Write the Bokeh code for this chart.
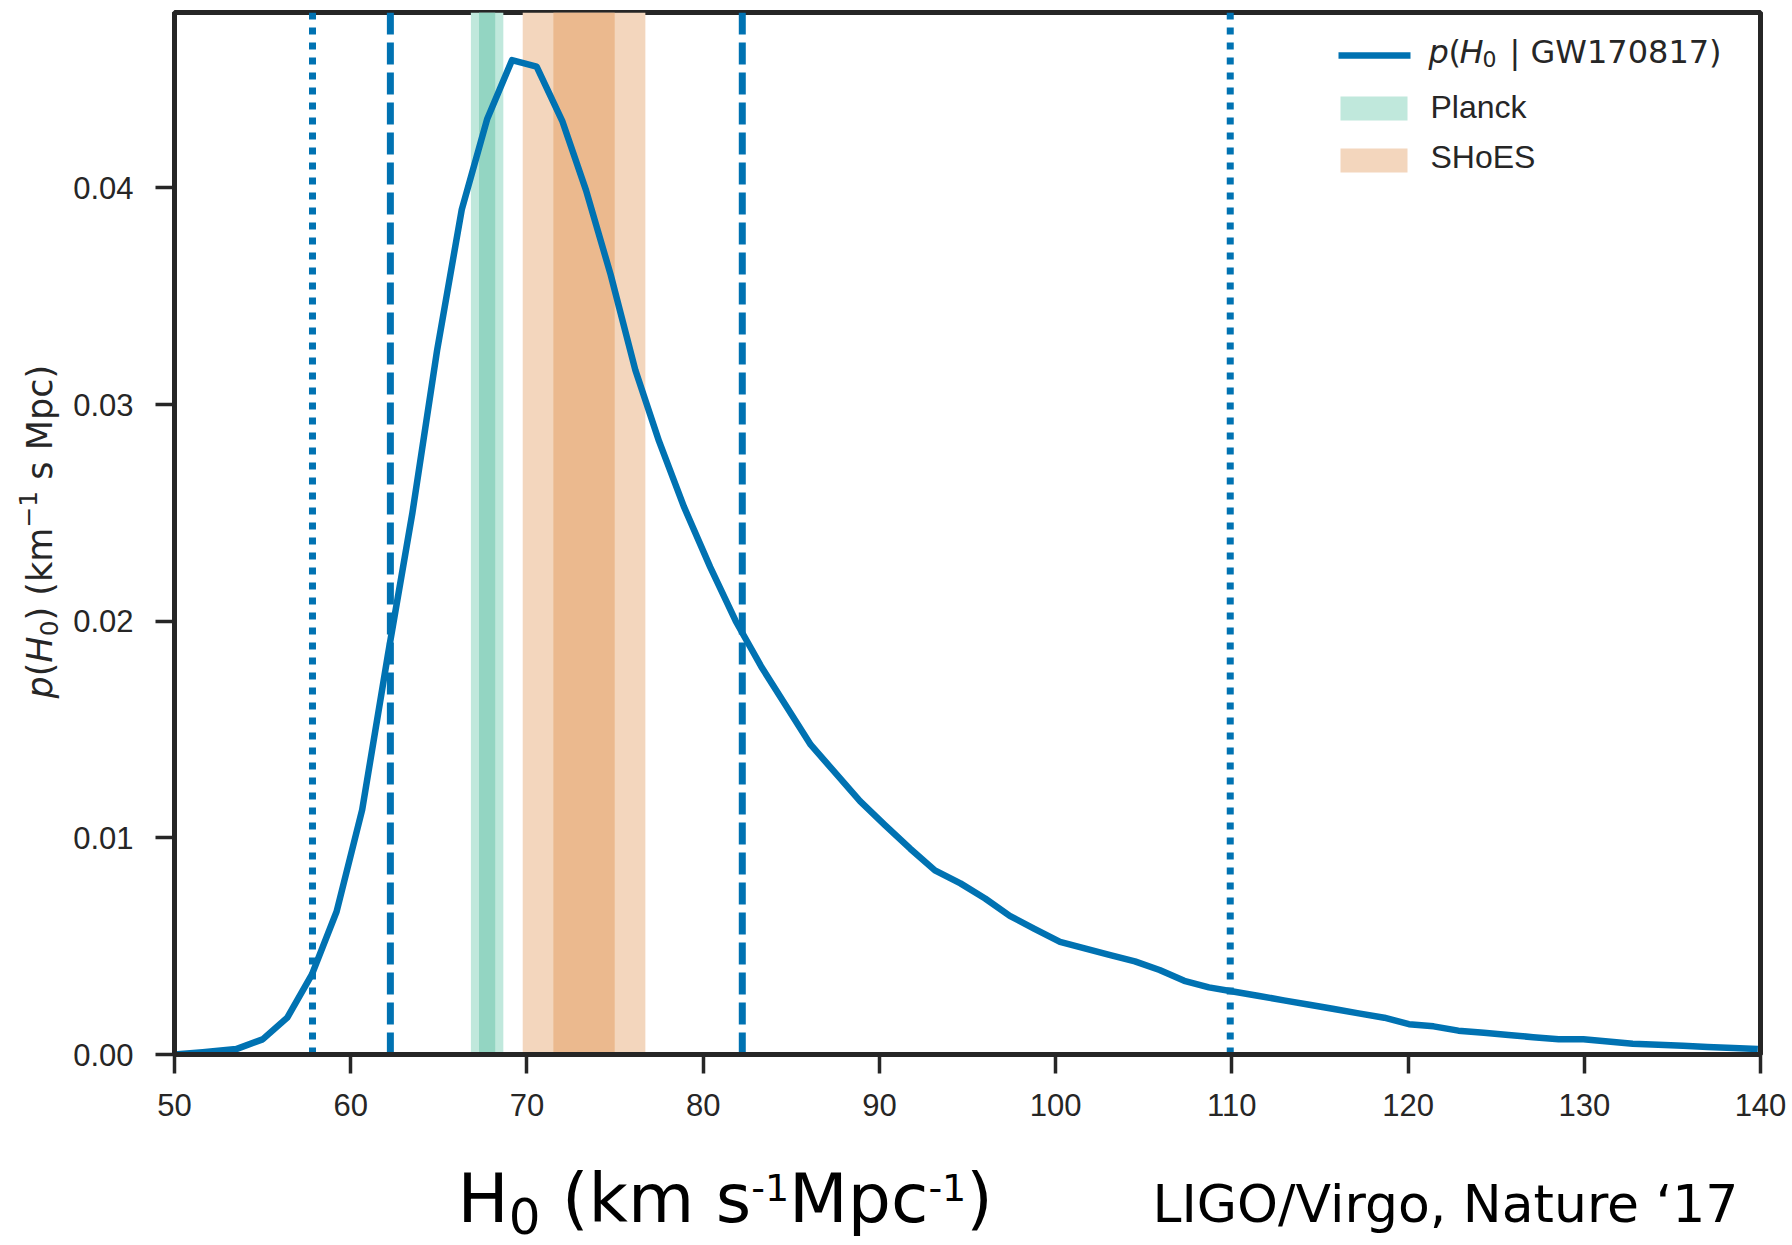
import math

from bokeh.plotting import figure
from bokeh.layouts import row, column
from bokeh.models import Range1d, FixedTicker, NumeralTickFormatter, Label
from bokeh.embed import file_html
from bokeh.resources import INLINE

# Posterior p(H0 | GW170817), km^-1 s Mpc
h0_grid = [50.0, 51.6, 53.5, 55.0, 56.4, 57.8, 59.2, 60.65, 62.1, 63.5,
           64.9, 66.3, 67.75, 69.15, 70.55, 72.0, 73.35, 74.75, 76.15, 77.5,
           78.9, 80.4, 81.85, 83.3, 84.7, 86.1, 87.5, 88.9, 90.3, 91.75,
           93.15, 94.6, 96.0, 97.4, 98.8, 100.25, 101.65, 103.05, 104.5, 105.9,
           107.3, 108.7, 110.15, 111.55, 112.95, 114.4, 115.8, 117.2, 118.65, 120.05,
           121.45, 122.85, 124.3, 125.7, 127.1, 128.55, 129.95, 131.35, 132.75, 134.2,
           135.6, 137.0, 138.45, 139.85]
posterior = [0.0, 0.0001, 0.00025, 0.0007, 0.0017, 0.0037, 0.0066, 0.0113, 0.0184, 0.0250,
             0.0325, 0.0390, 0.0432, 0.0459, 0.0456, 0.0431, 0.0399, 0.0360, 0.0316, 0.0283,
             0.0253, 0.0225, 0.0200, 0.0179, 0.0161, 0.0143, 0.0130, 0.0117, 0.0106, 0.0095,
             0.0085, 0.0079, 0.0072, 0.0064, 0.0058, 0.0052, 0.0049, 0.0046, 0.0043, 0.0039,
             0.0034, 0.0031, 0.0029, 0.0027, 0.0025, 0.0023, 0.0021, 0.0019, 0.0017, 0.0014,
             0.0013, 0.0011, 0.0010, 0.0009, 0.0008, 0.0007, 0.0007, 0.0006, 0.0005, 0.00045,
             0.0004, 0.00035, 0.0003, 0.00025]

# Credible intervals of the posterior
interval_68 = [62.25, 82.22]
interval_95 = [57.83, 109.91]

# External measurements: mean and 1-sigma
planck = (67.74, 0.46)
shoes = (73.24, 1.74)

x_ticks = [50, 60, 70, 80, 90, 100, 110, 120, 130, 140]
y_ticks = [0.00, 0.01, 0.02, 0.03, 0.04]

X0, X1 = 50, 140
Y_TOP = 0.0481

W, H = 1792, 1245
YLAB_W = 66          # strip holding the rotated y label
CAPTION_H = 105      # strip holding the caption under the axis
MAIN_W, MAIN_H = W - YLAB_W, H - CAPTION_H

# frame edges in page pixels
F_LEFT, F_RIGHT, F_TOP, F_BOTTOM = 174, 1760, 12, 1054
F_W, F_H = F_RIGHT - F_LEFT, F_BOTTOM - F_TOP

BLUE = "#0072b2"
INK = "#262626"
BLACK = "#000000"
SPACE_EM = 0.318     # DejaVu Sans space advance


def px2x(px):
    return X0 + (px - F_LEFT) * (X1 - X0) / F_W


def py2y(py):
    return (F_BOTTOM - py) * Y_TOP / F_H


p = figure(width=MAIN_W, height=MAIN_H, output_backend="svg", toolbar_location=None,
           x_range=Range1d(X0, X1), y_range=Range1d(0, Y_TOP),
           min_border_left=F_LEFT - YLAB_W, min_border_right=W - F_RIGHT,
           min_border_top=F_TOP, min_border_bottom=MAIN_H - F_BOTTOM)
p.background_fill_color = "white"
p.border_fill_color = "white"
p.xgrid.visible = False
p.ygrid.visible = False
p.outline_line_color = INK
p.outline_line_width = 5
p.outline_line_alpha = 1.0

for ax in (p.xaxis[0], p.yaxis[0]):
    ax.axis_line_color = INK
    ax.axis_line_width = 5
    ax.major_tick_out = 19
    ax.major_tick_in = 0
    ax.major_tick_line_color = INK
    ax.major_tick_line_width = 3.5
    ax.minor_tick_line_color = None
    ax.major_label_text_font = "Liberation Sans"
    ax.major_label_text_font_size = "31px"
    ax.major_label_text_color = INK
p.xaxis.ticker = FixedTicker(ticks=x_ticks)
p.yaxis.ticker = FixedTicker(ticks=y_ticks)
p.yaxis.formatter = NumeralTickFormatter(format="0.00")
p.xaxis.major_label_standoff = 20
p.yaxis.major_label_standoff = 22

# Planck and SHoES bands: 2-sigma (light) and 1-sigma (dark)
for (mean, sig), light, dark in [(planck, "#c0e8dc", "#93d5c2"),
                                 (shoes, "#f3d6bd", "#ebb98e")]:
    p.quad(left=[mean - 2 * sig], right=[mean + 2 * sig], bottom=[0], top=[Y_TOP],
           fill_color=light, line_color=None)
    p.quad(left=[mean - sig], right=[mean + sig], bottom=[0], top=[Y_TOP],
           fill_color=dark, line_color=None)

# Credible interval markers
p.segment(x0=interval_68, y0=[0, 0], x1=interval_68, y1=[Y_TOP, Y_TOP],
          line_color=BLUE, line_width=7, line_dash="22 8", line_cap="butt")
p.segment(x0=interval_95, y0=[0, 0], x1=interval_95, y1=[Y_TOP, Y_TOP],
          line_color=BLUE, line_width=7, line_dash="7 8", line_cap="butt")

# Posterior curve
p.line(h0_grid, posterior, line_color=BLUE, line_width=6.5, line_join="round")


def put(fig, text, x, y, size, font="DejaVu Sans", style="normal",
        angle=0.0, color=INK):
    fig.add_layout(Label(x=x, y=y, text=text, text_font=font,
                         text_font_size=f"{size}px", text_font_style=style,
                         text_color=color, text_align="left",
                         text_baseline="middle", angle=angle))


def put_main(text, px, py, size, **kw):
    put(p, text, px2x(px), py2y(py), size, **kw)


# Legend keys
p.line(x=[px2x(1338), px2x(1410)], y=[py2y(55), py2y(55)],
       line_color=BLUE, line_width=6.5)
p.quad(left=[px2x(1340)], right=[px2x(1407)], top=[py2y(96)], bottom=[py2y(120)],
       fill_color="#c0e8dc", line_color=None)
p.quad(left=[px2x(1340)], right=[px2x(1407)], top=[py2y(148)], bottom=[py2y(172)],
       fill_color="#f3d6bd", line_color=None)

# Legend labels
put_main("p", 1428, 51, 32, style="italic")
put_main("(", 1448, 51, 32)
put_main("H", 1459, 51, 32, style="italic")
put_main("0", 1482, 58, 22)
put_main("|", 1509, 51, 32)
put_main("GW170817)", 1530, 51, 32)
put_main("Planck", 1430, 106.5, 32, font="Liberation Sans")
put_main("SHoES", 1430, 156, 32, font="Liberation Sans")


def strip(width, height, y_bottom, y_top, border_top=0, border_bottom=0):
    fig = figure(width=width, height=height, output_backend="svg", toolbar_location=None,
                 x_range=Range1d(0, width), y_range=Range1d(y_bottom, y_top),
                 x_axis_location=None, y_axis_location=None,
                 min_border_left=0, min_border_right=0,
                 min_border_top=border_top, min_border_bottom=border_bottom)
    fig.grid.visible = False
    fig.outline_line_color = None
    fig.background_fill_color = "white"
    fig.border_fill_color = "white"
    return fig


# Rotated y label p(H0) (km^-1 s Mpc); its strip shares the frame rows of the plot
# parts: text, size, style, centre x, leading gap (em), advance (em)
ylab = strip(YLAB_W, MAIN_H, F_BOTTOM, F_TOP, F_TOP, MAIN_H - F_BOTTOM)
cursor = 698.0
ylabel_parts = [("p", 35, "italic", 39.3, 0.0, 0.635),
                ("(", 35, "normal", 39.3, 0.0, 0.39),
                ("H", 35, "italic", 39.3, 0.0, 0.752),
                ("0", 25, "normal", 48.8, 0.0, 0.636),
                (")", 35, "normal", 39.3, 0.0, 0.39),
                ("(km", 35, "normal", 39.3, SPACE_EM, 1.943),
                ("\u22121", 25, "normal", 27.8, 0.0, 1.474),
                ("s Mpc)", 35, "normal", 39.3, SPACE_EM, 3.277)]
for txt, size, style, cx, gap, em in ylabel_parts:
    cursor -= gap * size
    put(ylab, txt, cx, cursor, size, style=style, angle=math.pi / 2)
    cursor -= em * size

# Caption strip under the axis (page pixels)
cap = strip(W, CAPTION_H, H, MAIN_H)
caption_parts = [("H", 68, 1197.9, 0.0, 0.752),
                 ("0", 50, 1215.2, 0.0, 0.636),
                 ("(km s", 68, 1197.9, SPACE_EM, 2.782),
                 ("-1", 38, 1186.6, 0.0, 0.997),
                 ("Mpc", 68, 1197.9, 0.0, 2.048),
                 ("-1", 38, 1186.6, 0.0, 0.997),
                 (")", 68, 1197.9, 0.0, 0.39)]
cx = 457.0
for txt, size, cy, gap, em in caption_parts:
    cx += gap * size
    put(cap, txt, cx, cy, size, color=BLACK)
    cx += em * size
put(cap, "LIGO/Virgo, Nature \u201817", 1152, 1203.5, 52, color=BLACK)

layout = column(row(ylab, p), cap)
open("out.html", "w").write(file_html(layout, INLINE))
